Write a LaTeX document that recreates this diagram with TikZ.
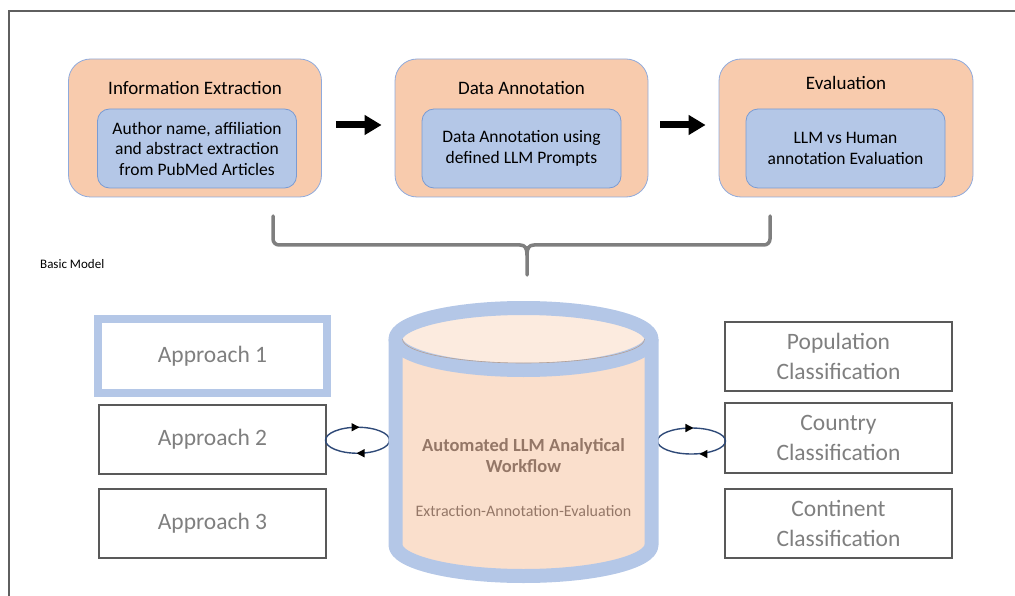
\documentclass[tikz,border=0pt]{standalone}
\usepackage{fontspec}
\setmainfont{Carlito}
\usetikzlibrary{arrows.meta,calc}
\definecolor{orfill}{HTML}{F8CBAD}
\definecolor{obord}{HTML}{8FAADC}
\definecolor{blfill}{HTML}{B4C7E7}
\definecolor{ibord}{HTML}{7A9BD3}
\definecolor{cylblue}{HTML}{B4C7E7}
\definecolor{cylbody}{HTML}{FADFCC}
\definecolor{cyltop}{HTML}{FCEBDF}
\definecolor{gtext}{HTML}{7F7F7F}
\definecolor{gbord}{HTML}{595959}
\definecolor{cyltext}{HTML}{947767}
\definecolor{framec}{HTML}{5F5F5F}
\definecolor{bracec}{HTML}{7F7F7F}
\definecolor{ellc}{HTML}{2F4A78}
\begin{document}
\begin{tikzpicture}[x=1pt,y=-1pt,
  outerbox/.style={draw=obord, fill=orfill, rounded corners=22, line width=0.8,
    minimum width=253, minimum height=138, inner sep=0},
  innerbox/.style={draw=ibord, fill=blfill, rounded corners=12, line width=0.8,
    minimum width=199, minimum height=79, inner sep=0, align=center,
    font=\fontsize{17.5}{20.5}\selectfont},
  titletext/.style={inner sep=0, font=\fontsize{19}{22}\selectfont},
  plainbox/.style={draw=gbord, line width=1.5, minimum width=227, minimum height=69,
    inner sep=0, align=center, text=gtext, font=\fontsize{23.5}{29.5}\selectfont},
  hlbox/.style={plainbox, draw=cylblue, line width=8, minimum width=229, minimum height=74},
  blockarrow/.style={line width=7, -{Triangle[length=17,width=19]}},
  bracestyle/.style={draw=bracec, line width=3.5, line cap=round},
  cycle/.style={draw=ellc, line width=1.4},
  cyctip/.style={draw=ellc, line width=1.4, -{Triangle[length=8,width=8,fill=black,color=black]}},
  cylstroke/.style={draw=cylblue, line width=14, line join=round},
]
\useasboundingbox (0,0) rectangle (1015,596);

% frame
\draw[framec, line width=1.5] (9,610) -- (9,11) -- (1025,11);

% top stage boxes
\node[outerbox] (b1) at (195,128) {};
\node[outerbox] (b2) at (521.5,128) {};
\node[outerbox, minimum width=254] (b3) at (846,128) {};

\node[titletext] (t1) at (195,88) {Information Extraction};
\node[titletext] (t2) at (521.5,88) {Data Annotation};
\node[titletext] (t3) at (846,83) {Evaluation};

\node[innerbox] (i1) at (197,148.5) {Author name, affiliation\\and abstract extraction\\from PubMed Articles};
\node[innerbox] (i2) at (521.5,148.5) {Data Annotation using\\defined LLM Prompts};
\node[innerbox] (i3) at (845.5,148.5) {LLM vs Human\\annotation Evaluation};

\draw[blockarrow] ($(b1.east)+(14,-3)$) -- ($(b2.west)+(-13,-3)$);
\draw[blockarrow] ($(b2.east)+(12,-3)$) -- ($(b3.west)+(-13,-3)$);

% brace
\draw[bracestyle, rounded corners=6] (273,216) -- (273,245) -- (520,245);
\draw[bracestyle] (520,245) .. controls (525,245) and (527,248) .. (527,255) -- (527,275);
\draw[bracestyle] (534,245) .. controls (529,245) and (527,248) .. (527,255);
\draw[bracestyle, rounded corners=6] (534,245) -- (770,245) -- (770,216);

\node[anchor=west, inner sep=0, font=\fontsize{13}{15}\selectfont] (basic) at (40,264) {Basic Model};

% left and right boxes
\node[hlbox] (ap1) at (212.5,356) {\raisebox{-2pt}{Approach 1}};
\node[plainbox] (ap2) at (212.5,439.5) {\raisebox{-2pt}{Approach 2}};
\node[plainbox] (ap3) at (212.5,523.5) {\raisebox{-2pt}{Approach 3}};

\node[plainbox] (pop) at (838.5,356.5) {Population\\Classification};
\node[plainbox, minimum height=70] (cou) at (838.5,438) {Country\\Classification};
\node[plainbox] (con) at (838.5,523.5) {Continent\\Classification};

% cylinder placeholder node
\node[minimum width=270, minimum height=282, inner sep=0] (cyl) at (523.5,442) {};

% cycle ellipses
\coordinate (cL) at ($(ap2.east)!0.5!(cyl.west)+(0,-0.5)$);
\coordinate (cR) at ($(cyl.east)!0.5!(cou.west)+(0,1)$);
\draw[cycle] (cL) ellipse [x radius=32, y radius=13];
\draw[cycle] (cR) ellipse [x radius=34, y radius=13];
\draw[cyctip] ($(cL)+(-4,-13)$) -- ($(cL)+(2,-13)$);
\draw[cyctip] ($(cL)+(5,13)$) -- ($(cL)+(-1,13)$);
\draw[cyctip] ($(cR)+(-4,-13)$) -- ($(cR)+(2,-13)$);
\draw[cyctip] ($(cR)+(14,13)$) -- ($(cR)+(8,13)$);

% cylinder
\fill[cylbody] (395.5,339) -- (395.5,545) arc[start angle=180, end angle=0, x radius=128, y radius=31] -- (651.5,339) -- cycle;
\draw[cylstroke] (395.5,339) -- (395.5,545) arc[start angle=180, end angle=0, x radius=128, y radius=31] -- (651.5,339);
\draw[cylstroke, fill=cyltop] (523.5,339) ellipse [x radius=128, y radius=31];
\draw[draw=cyltext!70, line width=0.6] (402.5,339) arc[start angle=180, end angle=0, x radius=121, y radius=24];

\node[inner sep=0, align=center, text=cyltext, font=\bfseries\fontsize{18.5}{21}\selectfont] (cyltitle) at (523.5,456) {Automated LLM Analytical\\Workflow};
\node[inner sep=0, text=cyltext, font=\fontsize{16}{19}\selectfont] (cylsub) at (523.5,511) {Extraction-Annotation-Evaluation};
\end{tikzpicture}
\end{document}
